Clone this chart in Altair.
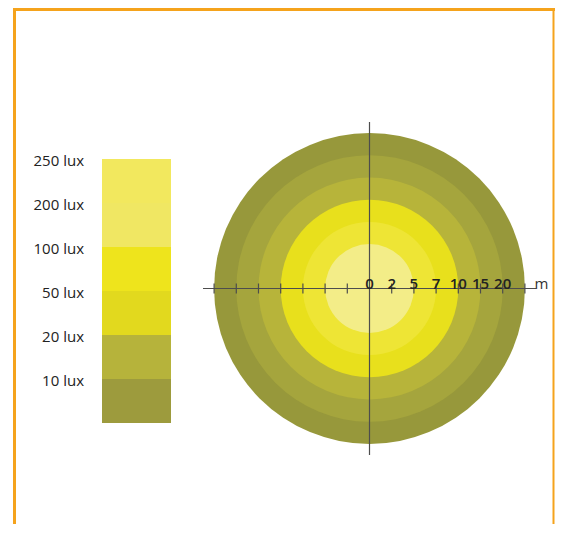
import altair as alt
import pandas as pd

# ---- data ----
lux_labels = ["10 lux", "20 lux", "50 lux", "100 lux", "200 lux", "250 lux"]  # bottom -> top
legend_colors = ["#9D9B3D", "#B6B33B", "#E2D91E", "#EEE41C", "#F0E763", "#F2E85E"]

ring_radius = [7, 6, 5, 4, 3, 2]  # outer radius of each zone, in scale steps
ring_colors = ["#97983B", "#A5A53D", "#B7B43A", "#E8E01C", "#EEE535", "#F3ED88"]

distance_labels = ["0", "2", "5", "7", "10", "15", "20"]
distance_steps = [0, 1, 2, 3, 4, 5, 6]
tick_steps = [-7, -6, -5, -4, -3, -2, -1, 1, 2, 3, 4, 5, 6, 7]
axis_extent = 7.5
unit_label = "m"
unit_pos = 7.75

W, H = 547, 516
FONT = "Open Sans"

# ---- circle group scales ----
xs = alt.Scale(domain=[-16.284, 8.356], nice=False, zero=False)
ys = alt.Scale(domain=[-10.608, 12.635], nice=False, zero=False)

rings = pd.DataFrame({"radius": ring_radius, "color": ring_colors,
                      "cx": [0] * len(ring_radius), "cy": [0] * len(ring_radius)})
circles = alt.Chart(rings).mark_circle(opacity=1, strokeWidth=0).encode(
    x=alt.X("cx:Q", scale=xs, axis=None),
    y=alt.Y("cy:Q", scale=ys, axis=None),
    size=alt.Size("radius:Q", scale=alt.Scale(type="pow", exponent=2, domain=[0, 7],
                                              range=[0, 96597]), legend=None),
    color=alt.Color("color:N", scale=None),
    order=alt.Order("radius:Q", sort="descending"),
)

hline = alt.Chart(pd.DataFrame({"a": [-axis_extent], "b": [axis_extent], "c": [0]})).mark_rule(
    color="#4d4d4d", strokeWidth=1.2).encode(x=alt.X("a:Q", scale=xs, axis=None), x2="b:Q",
                                            y=alt.Y("c:Q", scale=ys, axis=None))
vline = alt.Chart(pd.DataFrame({"a": [-axis_extent], "b": [axis_extent], "c": [0]})).mark_rule(
    color="#4d4d4d", strokeWidth=1.2).encode(y=alt.Y("a:Q", scale=ys, axis=None), y2="b:Q",
                                            x=alt.X("c:Q", scale=xs, axis=None))

ticks = alt.Chart(pd.DataFrame({"t": tick_steps, "z": [0] * len(tick_steps)})).mark_tick(
    orient="vertical", size=10, thickness=1.2, color="#4d4d4d", opacity=1).encode(
    x=alt.X("t:Q", scale=xs, axis=None), y=alt.Y("z:Q", scale=ys, axis=None))

dist = alt.Chart(pd.DataFrame({"p": distance_steps, "lab": distance_labels,
                               "z": [0] * len(distance_steps)})).mark_text(
    font=FONT, fontSize=15, fontWeight=600, color="#222222", align="center",
    baseline="alphabetic", dy=1).encode(
    x=alt.X("p:Q", scale=xs, axis=None), y=alt.Y("z:Q", scale=ys, axis=None), text="lab:N")

unit = alt.Chart(pd.DataFrame({"p": [unit_pos], "lab": [unit_label], "z": [0]})).mark_text(
    font=FONT, fontSize=15, color="#333333", align="center", baseline="alphabetic", dy=1).encode(
    x=alt.X("p:Q", scale=xs, axis=None), y=alt.Y("z:Q", scale=ys, axis=None), text="lab:N")

circle_group = alt.layer(circles, hline, vline, ticks, dist, unit)

# ---- legend group scales ----
lxs = alt.Scale(domain=[-1.3623, 6.5652], nice=False, zero=False)
lys = alt.Scale(domain=[-2.2955, 9.432], nice=False, zero=False)

leg = pd.DataFrame({"lo": list(range(len(lux_labels))),
                    "hi": [i + 1 for i in range(len(lux_labels))],
                    "label": lux_labels, "color": legend_colors,
                    "x0": [0] * len(lux_labels), "x1": [1] * len(lux_labels)})
leg_rects = alt.Chart(leg).mark_rect(strokeWidth=0).encode(
    x=alt.X("x0:Q", scale=lxs, axis=None), x2="x1:Q",
    y=alt.Y("lo:Q", scale=lys, axis=None), y2="hi:Q",
    color=alt.Color("color:N", scale=None))
leg_text = alt.Chart(leg).mark_text(font=FONT, fontSize=15, fontWeight=500, color="#222222",
                                    align="right", baseline="middle", dx=-18, dy=2).encode(
    x=alt.X("x0:Q", scale=lxs, axis=None), y=alt.Y("hi:Q", scale=lys, axis=None),
    text="label:N")
legend_group = alt.layer(leg_rects, leg_text)

# ---- orange frame ----
orange = "#F5A31C"
frame_left = alt.Chart(pd.DataFrame({"k": [0]})).mark_rule(color=orange, strokeWidth=3).encode(
    x=alt.value(6.5), y=alt.value(0.5), y2=alt.value(H))
frame_top = alt.Chart(pd.DataFrame({"k": [0]})).mark_rule(color=orange, strokeWidth=3).encode(
    x=alt.value(5), x2=alt.value(W), y=alt.value(1.5))
frame_right = alt.Chart(pd.DataFrame({"k": [0]})).mark_rule(color=orange, strokeWidth=2).encode(
    x=alt.value(545.5), y=alt.value(0.5), y2=alt.value(H))
frame = alt.layer(frame_left, frame_top, frame_right)

chart = alt.layer(circle_group, legend_group, frame).resolve_scale(
    x="independent", y="independent").properties(
    width=W, height=H, padding=0, autosize=alt.AutoSizeParams(type="none"),
    background="white").configure_view(stroke=None)

chart.save("out.html", embed_options={"renderer": "svg", "actions": False})
